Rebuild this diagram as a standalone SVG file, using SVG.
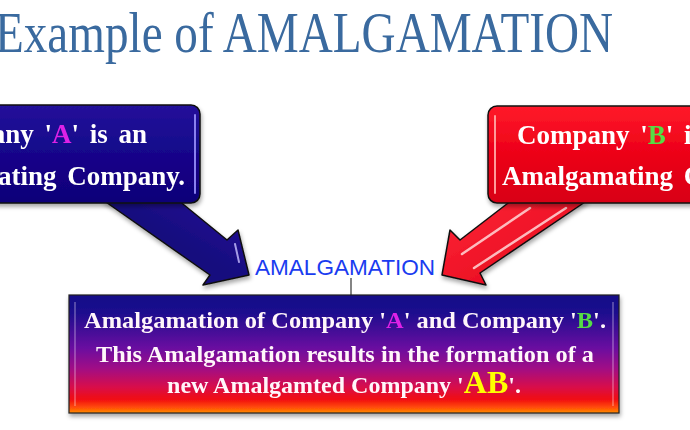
<svg xmlns="http://www.w3.org/2000/svg" width="690" height="430" viewBox="0 0 690 430">
<defs>
<style>
.title{font-family:"Liberation Serif","Times New Roman",serif;font-size:58px;fill:#3a6a9f}
.bt{font-family:"Liberation Serif","Times New Roman",serif;font-weight:bold;font-size:27px;fill:#ffffff;word-spacing:4px}
.mt{font-family:"Liberation Serif","Times New Roman",serif;font-weight:bold;font-size:24px;fill:#fff6fa}
.lbl{font-family:"Liberation Sans",Arial,sans-serif;font-size:22px;fill:#1a3cf0}
.edge{stroke:#111;stroke-width:1.5;stroke-linejoin:round}
.mag{fill:#dd22e6}
.grn{fill:#55dd44}
.yel{fill:#ffff00}
</style>
<linearGradient id="gBlue" x1="0" y1="0" x2="0" y2="1">
<stop offset="0" stop-color="#24129a"/><stop offset="0.5" stop-color="#14068a"/><stop offset="1" stop-color="#100578"/>
</linearGradient>
<linearGradient id="gRed" x1="0" y1="0" x2="0" y2="1">
<stop offset="0" stop-color="#ff1a2a"/><stop offset="0.5" stop-color="#ec0018"/><stop offset="1" stop-color="#d80014"/>
</linearGradient>
<linearGradient id="gMain" x1="0" y1="0" x2="0" y2="1">
<stop offset="0" stop-color="#120888"/><stop offset="0.15" stop-color="#1c0a8e"/><stop offset="0.45" stop-color="#6a0aa0"/><stop offset="0.62" stop-color="#a00a86"/><stop offset="0.78" stop-color="#d8084a"/><stop offset="0.88" stop-color="#f00a14"/><stop offset="0.95" stop-color="#ff4a08"/><stop offset="1" stop-color="#ff8c00"/>
</linearGradient>
<linearGradient id="gArrB" x1="0" y1="0" x2="1" y2="-1">
<stop offset="0" stop-color="#16087e"/><stop offset="0.6" stop-color="#2a18a0"/><stop offset="1" stop-color="#4a38c4"/>
</linearGradient>
<linearGradient id="gArrR" x1="0" y1="0" x2="1" y2="1">
<stop offset="0" stop-color="#ff2838"/><stop offset="1" stop-color="#e00018"/>
</linearGradient>
<filter id="sh" x="-10%" y="-10%" width="120%" height="130%">
<feDropShadow dx="1" dy="3" stdDeviation="2" flood-color="#000" flood-opacity="0.35"/>
</filter>
</defs>
<rect width="690" height="430" fill="#ffffff"/>

<g id="title">
<text class="title" x="-5" y="52" textLength="618" lengthAdjust="spacingAndGlyphs">Example of AMALGAMATION</text>
</g>

<g id="connectors">
<g id="arrow-a" filter="url(#sh)">
<polygon class="edge" fill="url(#gArrB)" points="103,200 178,200 227,240 238,230 249,275 203,285 210,275"/>
<path d="M235,244 L239,262" stroke="#c8c0ff" stroke-width="2" stroke-linecap="round" opacity="0.8"/>
</g>
<g id="arrow-b" filter="url(#sh)">
<polygon class="edge" fill="url(#gArrR)" points="512,200 588,200 480,273 486,285 442,275 450,230 460,240"/>
<path d="M530,208 L462,254" stroke="#ffd8d8" stroke-width="2.5" stroke-linecap="round" opacity="0.85"/>
<path d="M566,208 L474,268" stroke="#ffd8d8" stroke-width="2.5" stroke-linecap="round" opacity="0.85"/>
</g>
<line x1="351" y1="278" x2="351" y2="295" stroke="#333" stroke-width="1.2"/>
<text class="lbl" x="255" y="275" textLength="180" lengthAdjust="spacingAndGlyphs">AMALGAMATION</text>
</g>

<g id="node-a" filter="url(#sh)">
<rect class="edge" x="-12" y="105" width="212" height="98" rx="9" fill="url(#gBlue)"/>
<line x1="195" y1="115" x2="195" y2="193" stroke="#8a80ee" stroke-width="2" stroke-linecap="round"/>
<text class="bt" x="147" y="143" text-anchor="end">Company '<tspan class="mag">A</tspan>' is an</text>
<text class="bt" x="185" y="185" text-anchor="end">Amalgamating Company.</text>
</g>

<g id="node-b" filter="url(#sh)">
<rect class="edge" x="488" y="106" width="214" height="97" rx="9" fill="url(#gRed)"/>
<line x1="495" y1="116" x2="495" y2="193" stroke="#ff9a9a" stroke-width="2" stroke-linecap="round"/>
<text class="bt" x="517" y="144">Company '<tspan class="grn">B</tspan>' is an</text>
<text class="bt" x="502" y="185">Amalgamating Company.</text>
</g>

<g id="node-ab" filter="url(#sh)">
<rect x="69" y="295" width="550" height="118" fill="url(#gMain)" stroke="#222" stroke-width="1.2"/>
<line x1="75" y1="302" x2="75" y2="406" stroke="#ffffff" stroke-width="1.5" opacity="0.35"/>
<line x1="613" y1="302" x2="613" y2="406" stroke="#ffffff" stroke-width="1.5" opacity="0.35"/>
<text class="mt" x="84" y="328" textLength="522" lengthAdjust="spacingAndGlyphs">Amalgamation of Company '<tspan class="mag">A</tspan>' and Company '<tspan class="grn">B</tspan>'.</text>
<text class="mt" x="96" y="362" textLength="498" lengthAdjust="spacingAndGlyphs">This Amalgamation results in the formation of a</text>
<text class="mt" x="344" y="393" text-anchor="middle">new Amalgamted Company '<tspan class="yel" font-size="32px">AB</tspan>'.</text>
</g>
</svg>
